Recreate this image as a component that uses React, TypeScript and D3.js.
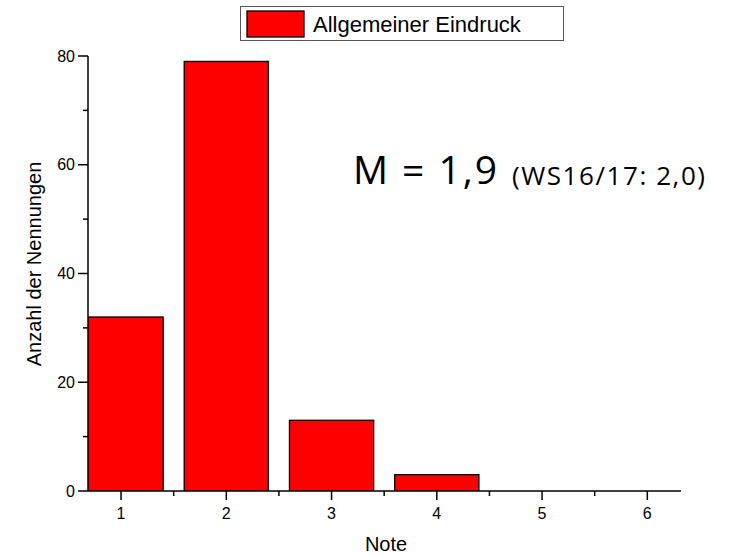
import * as d3 from 'd3';

const notes = [1, 2, 3, 4, 5, 6];
const counts = [32, 79, 13, 3, 0, 0];
const yTicks = [0, 20, 40, 60, 80];
const yMinor = [10, 30, 50, 70];
const xMinor = [1.5, 2.5, 3.5, 4.5, 5.5];

const W = 740;
const H = 556;
const AXIS_X = 88;
const AXIS_Y = 491;
const FONT = 'Liberation Sans, Arial, sans-serif';

export default function App() {
    const x = d3.scaleLinear().domain([0.686, 6.32]).range([AXIS_X, 681]);
    const y = d3.scaleLinear().domain([0, 80]).range([AXIS_Y, 56]);
    const barW = 0.8;

    return (
        <div style={{ position: 'fixed', left: 0, top: 0 }}>
            <svg width={W} height={H} style={{ background: '#fff', display: 'block' }}>
                <defs>
                    <clipPath id="plot">
                        <rect x={AXIS_X} y={0} width={681 - AXIS_X} height={AXIS_Y} />
                    </clipPath>
                </defs>

                <g clipPath="url(#plot)">
                    {notes.map((n, i) => {
                        const x0 = x(n - barW / 2);
                        const x1 = x(n + barW / 2);
                        return (
                            <rect
                                key={n}
                                x={x0}
                                y={y(counts[i])}
                                width={x1 - x0}
                                height={AXIS_Y - y(counts[i])}
                                fill="#ff0000"
                                stroke="#000"
                                strokeWidth={1.3}
                            />
                        );
                    })}
                </g>

                {/* y axis */}
                <line x1={AXIS_X} x2={AXIS_X} y1={y(80)} y2={AXIS_Y} stroke="#000" strokeWidth={1.5} />
                {yTicks.map((t) => (
                    <g key={t}>
                        <line x1={AXIS_X - 10} x2={AXIS_X} y1={y(t)} y2={y(t)} stroke="#000" strokeWidth={1.5} />
                        <text x={AXIS_X - 13} y={y(t)} dy="0.35em" textAnchor="end" fontSize={16} fontFamily={FONT}>
                            {t}
                        </text>
                    </g>
                ))}
                {yMinor.map((t) => (
                    <line key={t} x1={AXIS_X - 5} x2={AXIS_X} y1={y(t)} y2={y(t)} stroke="#000" strokeWidth={1.5} />
                ))}

                {/* x axis */}
                <line x1={AXIS_X} x2={681} y1={AXIS_Y} y2={AXIS_Y} stroke="#000" strokeWidth={1.5} />
                {notes.map((n) => (
                    <g key={n}>
                        <line x1={x(n)} x2={x(n)} y1={AXIS_Y} y2={AXIS_Y + 9} stroke="#000" strokeWidth={1.5} />
                        <text x={x(n)} y={AXIS_Y + 28} textAnchor="middle" fontSize={16} fontFamily={FONT}>
                            {n}
                        </text>
                    </g>
                ))}
                {xMinor.map((n) => (
                    <line key={n} x1={x(n)} x2={x(n)} y1={AXIS_Y} y2={AXIS_Y + 5} stroke="#000" strokeWidth={1.5} />
                ))}

                <text x={386} y={551} textAnchor="middle" fontSize={20} fontFamily={FONT}>
                    Note
                </text>
                <text
                    transform="translate(41,264) rotate(-90)"
                    textAnchor="middle"
                    fontSize={20}
                    fontFamily={FONT}
                >
                    Anzahl der Nennungen
                </text>

                {/* legend */}
                <rect x={240.5} y={6.5} width={323} height={34} fill="#fff" stroke="#555" strokeWidth={1} />
                <rect x={247} y={11} width={57} height={26} fill="#ff0000" stroke="#000" strokeWidth={1.3} />
                <text x={313} y={32} fontSize={22} fontFamily={FONT}>
                    Allgemeiner Eindruck
                </text>

                {/* annotation */}
                <text x={353} y={184} fontSize={39} fontFamily="Open Sans, sans-serif" textLength={144} lengthAdjust="spacing">
                    M = 1,9
                </text>
                <text x={512} y={185} fontSize={26} fontFamily="Open Sans, sans-serif" textLength={193} lengthAdjust="spacing">
                    (WS16/17: 2,0)
                </text>
            </svg>
        </div>
    );
}
